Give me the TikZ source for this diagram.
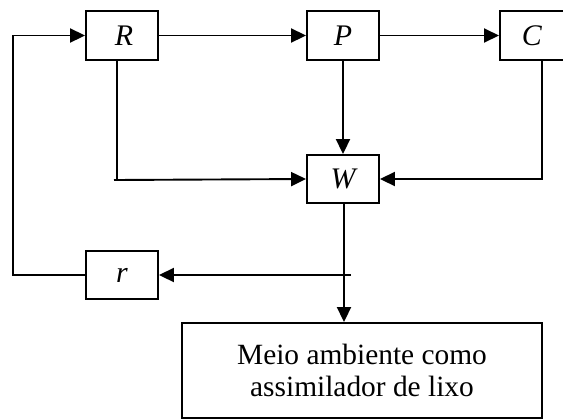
\documentclass[tikz,border=0pt]{standalone}
\usepackage{fontspec}
\setmainfont{Liberation Serif}
\usetikzlibrary{arrows.meta}
\begin{document}
\begin{tikzpicture}[x=1bp,y=-1bp,
  blk/.style={draw,line width=1.9bp,minimum width=72bp,minimum height=49bp,inner sep=0pt,font=\fontsize{30}{32}\selectfont\itshape},
  conn/.style={line width=1.9bp},
  arr/.style={conn,-{Triangle[length=15bp,width=14bp]}}]
\useasboundingbox (0,0) rectangle (563,419);
\node[blk] (R) at (122,35.5) {$\,$R};
\node[blk] (P) at (343,35.5) {P};
\node[blk,anchor=west] (C) at (499,35.5) {\hspace*{-8bp}C};
\node[blk,minimum height=48bp] (W) at (343,179) {W};
\node[blk,minimum height=48bp] (r) at (122,275) {r};
\node[draw,line width=1.9bp,minimum width=360bp,minimum height=95bp,inner sep=0pt,align=center,
  font=\fontsize{29.5}{32}\selectfont] (E) at (362,370.5) {Meio ambiente como\\assimilador de lixo};
\coordinate (fb1) at (13,275);
\coordinate (fb2) at (13,35.5);
\coordinate (rd) at (117,180);
\coordinate (rs) at (114,180);
\coordinate (cd) at (542,179);
\coordinate (ws) at (351,275);
\draw[arr] (r.west) -- (fb1) -- (fb2) -- (R.west);
\draw[arr] (R.east) -- (P.west);
\draw[arr] (P.east) -- (C.west);
\draw[arr] (P.south) -- (W.north);
\draw[conn] (R.south -| rd) -- (rd);
\draw[arr] (rs) -- (W.west);
\draw[arr] (C.south -| cd) -- (cd) -- (W.east);
\draw[arr] ([xshift=1bp]W.south) -- ([xshift=1bp]W.south |- E.north);
\draw[arr] (ws) -- (r.east);
\end{tikzpicture}
\end{document}
